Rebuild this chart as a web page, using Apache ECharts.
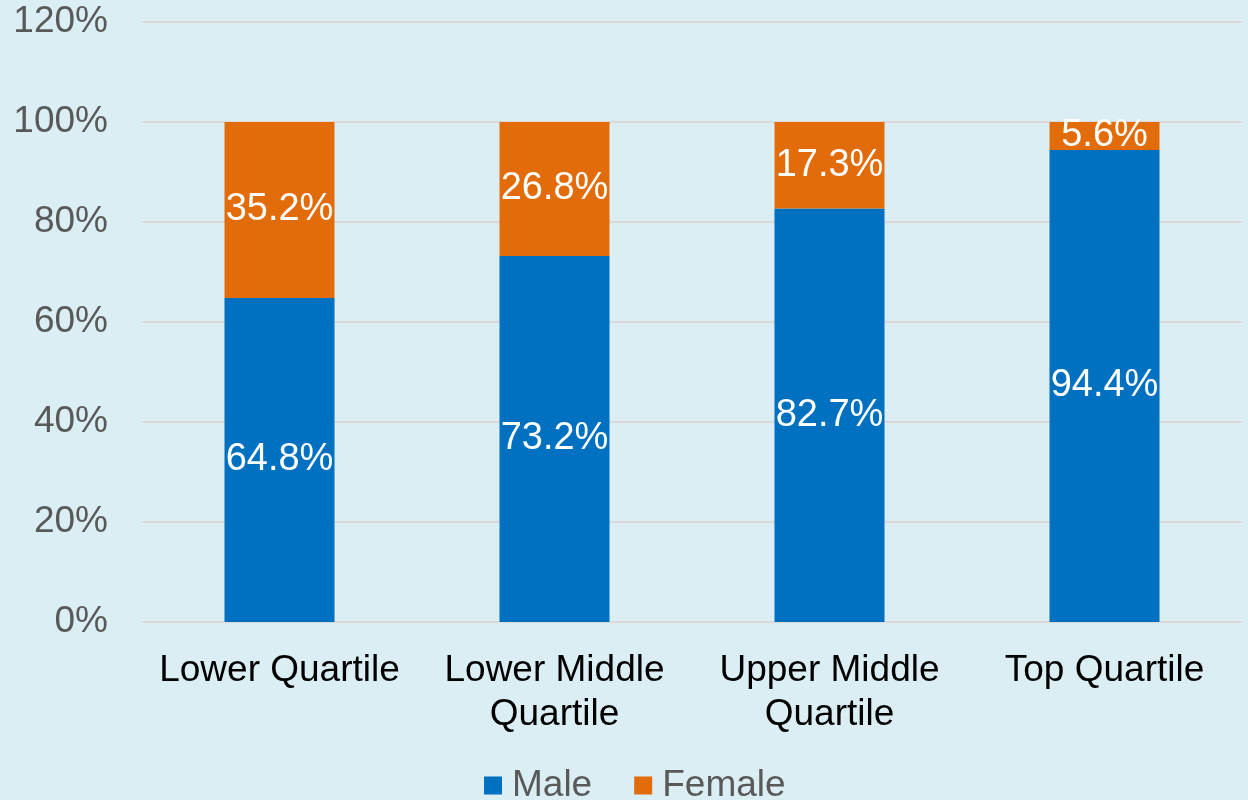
<!DOCTYPE html>
<html>
<head>
<meta charset="utf-8">
<script src="https://cdn.jsdelivr.net/npm/echarts@6/dist/echarts.min.js"></script>
<style>
  html, body { margin: 0; padding: 0; background: #DBEEF4; }
  #chart { width: 1248px; height: 800px; }
</style>
</head>
<body>
<div id="chart"></div>
<script>
const categories = ["Lower Quartile", "Lower Middle\nQuartile", "Upper Middle\nQuartile", "Top Quartile"];
const male = [64.8, 73.2, 82.7, 94.4];
const female = [35.2, 26.8, 17.3, 5.6];

const font = "Liberation Sans, Arial, sans-serif";

const labelStyle = {
  show: true,
  position: "inside",
  color: "#ffffff",
  fontSize: 38,
  fontFamily: font,
  padding: [6, 0, 0, 0],
  formatter: (p) => p.value.toFixed(1) + "%",
};

let chart = echarts.init(document.getElementById("chart"));

chart.setOption({
  backgroundColor: "#DBEEF4",
  animation: false,
  grid: { left: 142, right: 6, top: 22, bottom: 178 },
  legend: {
    data: ["Male", "Female"],
    top: 762,
    left: 479,
    itemWidth: 18,
    itemHeight: 18,
    itemGap: 42,
    icon: "rect",
    textStyle: { fontSize: 37, color: "#595959", fontFamily: font, padding: [0, 0, 0, 5] },
  },
  xAxis: {
    type: "category",
    data: categories,
    axisLine: { show: false },
    axisTick: { show: false },
    axisLabel: {
      fontSize: 37,
      color: "#000000",
      fontFamily: font,
      margin: 27,
      lineHeight: 44,
      interval: 0,
    },
  },
  yAxis: {
    type: "value",
    min: 0,
    max: 120,
    interval: 20,
    axisLabel: {
      fontSize: 37,
      color: "#595959",
      fontFamily: font,
      margin: 34,
      padding: [8, 0, 0, 0],
      formatter: "{value}%",
    },
    splitLine: { lineStyle: { color: "#D9D9D9", width: 2 } },
  },
  series: [
    {
      name: "Male",
      type: "bar",
      stack: "total",
      data: male,
      barWidth: 110,
      itemStyle: { color: "#0070C0" },
      label: labelStyle,
    },
    {
      name: "Female",
      type: "bar",
      stack: "total",
      data: female,
      barWidth: 110,
      itemStyle: { color: "#E36C0A" },
      label: labelStyle,
    },
  ],
});

window.addEventListener("resize", () => {
  if (chart) {
    chart.resize();
  }
});
</script>
</body>
</html>
